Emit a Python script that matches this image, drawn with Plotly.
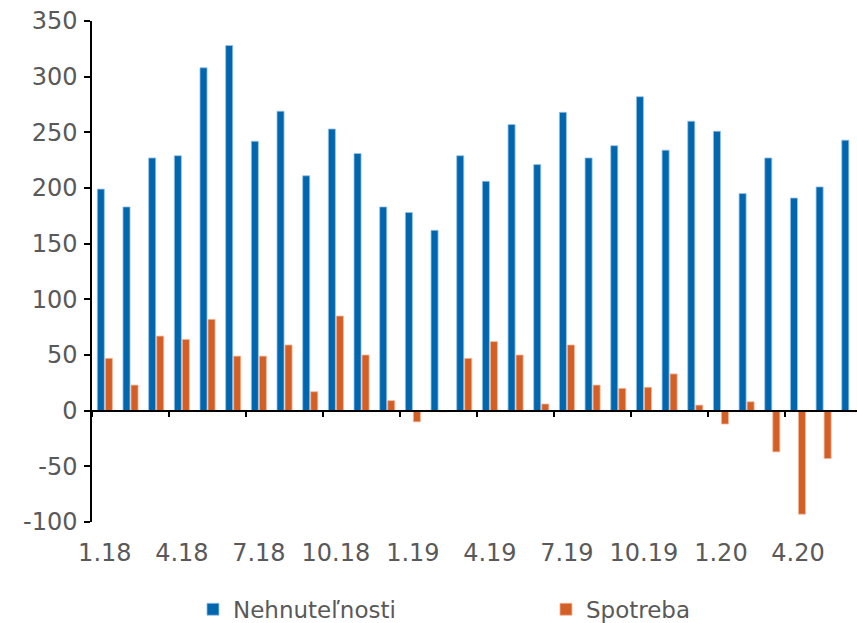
import plotly.graph_objects as go

months = ["1.18","2.18","3.18","4.18","5.18","6.18","7.18","8.18","9.18","10.18","11.18","12.18",
          "1.19","2.19","3.19","4.19","5.19","6.19","7.19","8.19","9.19","10.19","11.19","12.19",
          "1.20","2.20","3.20","4.20","5.20","6.20"]
nehnutelnosti = [199, 183, 227, 229, 308, 328, 242, 269, 211, 253, 231, 183,
                 178, 162, 229, 206, 257, 221, 268, 227, 238, 282, 234, 260,
                 251, 195, 227, 191, 201, 243]
spotreba = [47, 23, 67, 64, 82, 49, 49, 59, 17, 85, 50, 9,
            -10, -1, 47, 62, 50, 6, 59, 23, 20, 21, 33, 5,
            -12, 8, -37, -93, -43, -1]
tick_idx = list(range(0, 30, 3))
tick_labels = [months[i] for i in tick_idx]
y_ticks = list(range(-100, 351, 50))
y_tick_labels = [str(v) for v in y_ticks]

pos = list(range(len(months)))
font = "DejaVu Sans"
grey = "#595959"

fig = go.Figure()
fig.add_trace(go.Bar(x=pos, y=nehnutelnosti, name="Nehnuteľnosti",
                     marker=dict(color="#0066AE", line=dict(color="#9CC3E6", width=0.8))))
fig.add_trace(go.Bar(x=pos, y=spotreba, name="Spotreba",
                     marker=dict(color="#D35F27", line=dict(color="#F0B89A", width=0.8))))
# invisible trace to carry the bottom label axis
fig.add_trace(go.Scatter(x=[pos[0]], y=[0], xaxis="x2", mode="markers",
                         marker=dict(opacity=0), showlegend=False, hoverinfo="skip"))

yr = [-100, 350]
zero_frac = (0 - yr[0]) / (yr[1] - yr[0])

fig.update_layout(
    width=857, height=623,
    margin=dict(l=92, r=0, t=21, b=101, autoexpand=False),
    paper_bgcolor="white", plot_bgcolor="white",
    barmode="group", bargap=0.375, bargroupgap=0.12,
    font=dict(family=font, size=24, color=grey),
    showlegend=True,
    legend=dict(orientation="h", x=0.132, xanchor="left",
                yref="container", y=0.022, yanchor="middle",
                font=dict(family=font, size=23, color=grey),
                entrywidth=308, entrywidthmode="pixels", itemwidth=30,
                tracegroupgap=0),
    xaxis=dict(range=[-0.5, 29.3], anchor="free", position=zero_frac,
               showline=True, linecolor="black", linewidth=1.5, automargin=False,
               showticklabels=False, showgrid=False, zeroline=False,
               tickmode="array", tickvals=[i - 0.5 for i in tick_idx],
               ticks="outside", ticklen=6, tickcolor="black", tickwidth=1.5),
    xaxis2=dict(range=[-0.5, 29.3], overlaying="x", anchor="y", side="bottom",
                showline=False, showgrid=False, zeroline=False, ticks="",
                automargin=False, ticklabelstandoff=14,
                tickmode="array", tickvals=tick_idx, ticktext=tick_labels,
                tickfont=dict(family=font, size=24, color=grey)),
    yaxis=dict(range=yr, tickmode="array", tickvals=y_ticks, ticktext=y_tick_labels,
               showline=True, linecolor="black", linewidth=1.5, automargin=False,
               ticks="outside", ticklen=6, tickcolor="black", tickwidth=1.5,
               ticklabelstandoff=2,
               showgrid=False, zeroline=False,
               tickfont=dict(family=font, size=24, color=grey)),
)

fig.write_html("out.html",
               config={"displayModeBar": False},
               post_script="document.body.style.margin='0';document.body.style.overflow='hidden';")
